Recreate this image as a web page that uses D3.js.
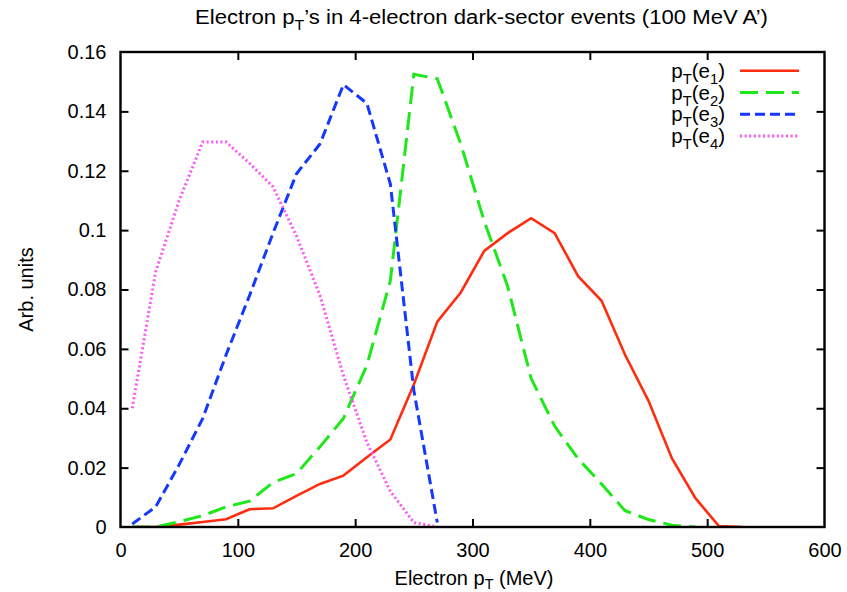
<!DOCTYPE html>
<html>
<head>
<meta charset="utf-8">
<script src="https://cdn.jsdelivr.net/npm/d3@7"></script>
<style>
  body { margin: 0; background: #fff; }
  svg { display: block; font-family: "Liberation Sans", Arial, Helvetica, sans-serif; }
</style>
</head>
<body>
<svg id="chart" width="847" height="592"></svg>
<script>
// ---- data ----
const xTicks = [0, 100, 200, 300, 400, 500, 600];
const yTicks = [0, 0.02, 0.04, 0.06, 0.08, 0.1, 0.12, 0.14, 0.16];

const e1X = [10, 30, 50, 70, 90, 110, 130, 150, 170, 190, 210, 230, 250, 270, 290, 310, 330, 350, 370, 390, 410, 430, 450, 470, 490, 510, 530];
const e1Y = [0, 0, 0.0008, 0.0017, 0.0026, 0.006, 0.0063, 0.0105, 0.0145, 0.0173, 0.0235, 0.0295, 0.048, 0.0692, 0.079, 0.093, 0.099, 0.104, 0.099, 0.0845, 0.0762, 0.058, 0.0425, 0.0231, 0.0097, 0.0003, 0];

const e2X = [10, 30, 50, 70, 90, 110, 130, 150, 170, 190, 210, 230, 250, 270, 290, 310, 330, 350, 370, 390, 410, 430, 450, 470, 490];
const e2Y = [0, 0, 0.0018, 0.0038, 0.0068, 0.0087, 0.015, 0.018, 0.027, 0.0366, 0.0545, 0.083, 0.1525, 0.151, 0.129, 0.103, 0.081, 0.05, 0.034, 0.023, 0.0145, 0.0055, 0.0025, 0.0006, 0];

const e3X = [10, 30, 50, 70, 90, 110, 130, 150, 170, 190, 210, 230, 250, 270];
const e3Y = [0.001, 0.0068, 0.021, 0.0365, 0.058, 0.078, 0.099, 0.119, 0.129, 0.149, 0.1427, 0.1155, 0.046, 0.0015];

const e4X = [10, 30, 50, 70, 90, 110, 130, 150, 170, 190, 210, 230, 250, 270];
const e4Y = [0.04, 0.086, 0.110, 0.1297, 0.1297, 0.1225, 0.1146, 0.098, 0.078, 0.051, 0.0285, 0.012, 0.0015, 0];

const seriesNames = ["1", "2", "3", "4"];
const seriesColors = ["#ff2d10", "#1ee81a", "#1538ff", "#ff55f5"];
const seriesDash = [null, "18,8", "10,5", "2,2.6"];
const seriesWidth = [2.6, 3, 3, 3];

const series = [
  {x: e1X, y: e1Y}, {x: e2X, y: e2Y}, {x: e3X, y: e3Y}, {x: e4X, y: e4Y}
].map((s, i) => ({
  name: seriesNames[i], color: seriesColors[i], dash: seriesDash[i], width: seriesWidth[i],
  points: s.x.map((xv, j) => [xv, s.y[j]])
}));

// ---- layout ----
const svg = d3.select("#chart");
const L = 120.5, R = 824.5, T = 52, B = 527;
const x = d3.scaleLinear().domain([0, 600]).range([L, R]);
const y = d3.scaleLinear().domain([0, 0.16]).range([B, T]);
const fmt = d => String(+d.toFixed(2));
const tickLen = 8;
const fs = 20;

// clip
svg.append("defs").append("clipPath").attr("id", "clip")
  .append("rect").attr("x", L).attr("y", T).attr("width", R - L).attr("height", B - T);

// lines
const line = d3.line().x(d => x(d[0])).y(d => y(d[1]));
const g = svg.append("g").attr("clip-path", "url(#clip)");
series.forEach(s => {
  g.append("path").datum(s.points)
    .attr("d", line)
    .attr("fill", "none")
    .attr("stroke", s.color)
    .attr("stroke-width", s.width)
    .attr("stroke-linejoin", "miter")
    .attr("stroke-dasharray", s.dash);
});

// axes
function styleAxis(sel, showLabels) {
  sel.select(".domain").remove();
  sel.selectAll(".tick line").attr("stroke", "#000").attr("stroke-width", 2);
  sel.selectAll(".tick text").attr("fill", "#000").style("font-size", fs + "px")
    .style("font-family", "'Liberation Sans', Arial, Helvetica, sans-serif");
  if (!showLabels) sel.selectAll(".tick text").remove();
}

const xb = svg.append("g").attr("transform", `translate(0,${B})`)
  .call(d3.axisBottom(x).tickValues(xTicks).tickSize(-tickLen).tickPadding(15.5).tickFormat(d => d));
styleAxis(xb, true);
xb.selectAll(".tick").filter(d => d === 0 || d === 600).select("line").remove();

const xt = svg.append("g").attr("transform", `translate(0,${T})`)
  .call(d3.axisTop(x).tickValues(xTicks).tickSize(-tickLen));
styleAxis(xt, false);
xt.selectAll(".tick").filter(d => d === 0 || d === 600).select("line").remove();

const yl = svg.append("g").attr("transform", `translate(${L},0)`)
  .call(d3.axisLeft(y).tickValues(yTicks).tickSize(-tickLen).tickPadding(14).tickFormat(fmt));
styleAxis(yl, true);
yl.selectAll(".tick").filter(d => d === 0 || d === 0.16).select("line").remove();

const yr = svg.append("g").attr("transform", `translate(${R},0)`)
  .call(d3.axisRight(y).tickValues(yTicks).tickSize(-tickLen));
styleAxis(yr, false);
yr.selectAll(".tick").filter(d => d === 0 || d === 0.16).select("line").remove();

// frame
svg.append("rect").attr("x", L).attr("y", T).attr("width", R - L).attr("height", B - T)
  .attr("fill", "none").attr("stroke", "#000").attr("stroke-width", 2.4);

// helper for subscripted text
function subText(sel, parts, size, shift) {
  const sh = shift === undefined ? 0.3 : shift;
  let sub = false;
  parts.forEach(([t, isSub]) => {
    const ts = sel.append("tspan").text(t);
    if (isSub && !sub) { ts.attr("dy", size * sh).style("font-size", (size * 0.72) + "px"); sub = true; }
    else if (!isSub && sub) { ts.attr("dy", -size * sh); sub = false; }
    else if (isSub) ts.style("font-size", (size * 0.72) + "px");
  });
}

// title
const title = svg.append("text").attr("x", 481.5).attr("y", 24).attr("text-anchor", "middle")
  .style("font-size", "19.5px").attr("fill", "#000")
  .attr("textLength", 573).attr("lengthAdjust", "spacingAndGlyphs");
subText(title, [["Electron p", false], ["T", true], ["\u2019s in 4-electron dark-sector events (100 MeV A\u2019)", false]], 19.5);

// x label
const xl = svg.append("text").attr("x", 474).attr("y", 584.5).attr("text-anchor", "middle")
  .style("font-size", fs + "px").attr("fill", "#000");
subText(xl, [["Electron p", false], ["T", true], [" (MeV)", false]], fs, 0.24);

// y label
svg.append("text").attr("transform", `translate(33,${(T + B) / 2}) rotate(-90)`)
  .attr("text-anchor", "middle").style("font-size", fs + "px").attr("fill", "#000")
  .text("Arb. units");

// legend
const legX = 725, legY0 = 70.7, legDy = 21.8;
series.forEach((s, i) => {
  const yy = legY0 + i * legDy;
  const t = svg.append("text").attr("x", legX).attr("y", yy + 7).attr("text-anchor", "end")
    .style("font-size", "20.5px").attr("fill", "#000");
  subText(t, [["p", false], ["T", true], ["(e", false], [s.name, true], [")", false]], 20.5);
  svg.append("line").attr("x1", 740).attr("x2", 799).attr("y1", yy).attr("y2", yy)
    .attr("stroke", s.color).attr("stroke-width", s.width).attr("stroke-dasharray", s.dash);
});
</script>
</body>
</html>
